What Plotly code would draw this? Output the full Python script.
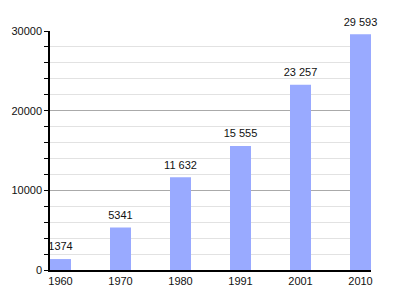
import plotly.graph_objects as go

years = ["1960", "1970", "1980", "1991", "2001", "2010"]
population = [1374, 5341, 11632, 15555, 23257, 29593]
labels = ["1374", "5341", "11 632", "15 555", "23 257", "29 593"]
y_ticks = [0, 10000, 20000, 30000]

fig = go.Figure()
fig.add_trace(go.Bar(
    x=years, y=population,
    marker=dict(color="#99aaff", line=dict(width=0)),
    width=0.35,
))
fig.add_trace(go.Scatter(
    x=years, y=population, text=labels, mode="markers+text", textposition="top center",
    marker=dict(size=8, opacity=0),
    textfont=dict(family="Liberation Sans, Arial", size=11, color="#111"),
    cliponaxis=False, hoverinfo="skip",
))
fig.update_layout(
    width=400, height=300,
    margin=dict(l=50, r=29, t=31, b=30),
    paper_bgcolor="white", plot_bgcolor="white",
    showlegend=False,
    font=dict(family="Liberation Sans, Arial", size=11, color="#111"),
    xaxis=dict(type="category", range=[-0.175, 5.175], showgrid=False,
               showline=True, linecolor="black", linewidth=1.5, ticks="",
               tickfont=dict(size=11)),
    yaxis=dict(range=[0, 30000], tickvals=y_ticks, ticktext=[str(v) for v in y_ticks],
               showgrid=True, gridcolor="#aaaaaa", gridwidth=1,
               showline=True, linecolor="black", linewidth=1.5,
               ticks="outside", ticklen=4, tickcolor="black",
               zeroline=False,
               minor=dict(dtick=2000, tick0=0, showgrid=True, gridcolor="#e2e2e2",
                          ticks="outside", ticklen=4, tickcolor="black"),
               tickfont=dict(size=11)),
)
fig.write_html("out.html")
